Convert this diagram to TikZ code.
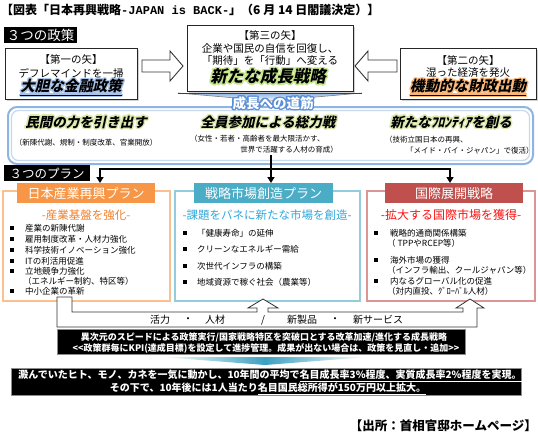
\documentclass[tikz,border=0pt]{standalone}
\usepackage{fontspec}
\usepackage[copies]{contour}
\setmainfont{Noto Sans CJK JP}
\newfontfamily\jpi{Noto Sans CJK JP}[FakeSlant=0.22]
\newfontfamily\mono{Liberation Mono}
\usetikzlibrary{arrows.meta,shadows}
\definecolor{orgA}{HTML}{F79646}
\definecolor{orgL}{HTML}{FAC090}
\definecolor{orgT}{HTML}{F07F2A}
\definecolor{bluA}{HTML}{4BACC6}
\definecolor{bluL}{HTML}{93CDDD}
\definecolor{bluT}{HTML}{2EA8DC}
\definecolor{redA}{HTML}{C0504D}
\definecolor{redL}{HTML}{D99694}
\definecolor{redT}{HTML}{FF1010}
\definecolor{bigO}{HTML}{8EB4E3}
\definecolor{bigI}{HTML}{C6D9F1}
\definecolor{glowG}{HTML}{C8E68C}
\definecolor{glowB}{HTML}{A9C4EB}
\definecolor{glowO}{HTML}{F9B87A}
\definecolor{glowY}{HTML}{DCEAB0}
\definecolor{pathB}{HTML}{5B8FD5}
\definecolor{wedgeB}{HTML}{3CA0C0}
\newcommand\fsz[1]{\fontsize{#1}{#1}\selectfont}
\newcommand\bul[2]{\fill (#1-2.2,#2-2.2) rectangle (#1+2.2,#2+2.2);}
\tikzset{
  lbl/.style={fill=black,text=white,inner sep=0pt,anchor=north west},
  abox/.style={draw=black!85,line width=0.9pt,fill=white,anchor=north west,inner sep=0pt,
    drop shadow={shadow xshift=1.2pt,shadow yshift=-1.2pt,fill=black!35}},
  hollow/.style={draw=black!80,line width=0.9pt,fill=white},
  hdr/.style={text=white,inner sep=0pt,anchor=north west,minimum height=20},
  tree/.style={line width=1.8pt},
  treearrow/.style={line width=1.8pt,-{Triangle[width=7pt,length=6pt]}},
  item/.style={anchor=west,inner sep=0pt},
  barbox/.style={fill=black,draw=black!45,line width=0.8pt,anchor=north west,inner sep=0pt},
}
\begin{document}
\begin{tikzpicture}[x=1pt,y=-1pt,every node/.style={inner sep=0pt}]
\useasboundingbox (0,0) rectangle (538,439);
\fill[white] (0,0) rectangle (538,439);

% title
\node[anchor=west] (title) at (1,10) {\fsz{12}\bfseries 【図表「日本再興戦略{\mono -JAPAN is BACK-}」（6 月 14 日閣議決定）】};

% three policies label
\node[lbl,minimum width=73,minimum height=16] (policyLbl) at (4,27) {};
\node (policyTxt) at (policyLbl.center) {\fsz{13.5}\color{white}３つの政策};

% first arrow box
\node[abox,minimum width=132,minimum height=51] (arrow1) at (5,48) {};
\node (a1t1) at (71,60) {\fsz{10.5}【第一の矢】};
\node (a1t2) at (71,73) {\fsz{10.5}デフレマインドを一掃};
\node (a1t3) at (71,88) {\contourlength{1.3pt}\fsz{14.5}\jpi\bfseries\contour{glowB}{\underline{大胆な金融政策}}};

% third arrow box
\node[abox,minimum width=166,minimum height=66] (arrow3) at (187,25) {};
\node (a3t1) at (270,36) {\fsz{10.5}【第三の矢】};
\node (a3t2) at (270,49) {\fsz{10.5}企業や国民の自信を回復し、};
\node (a3t3) at (270,61) {\fsz{10.5}「期待」を「行動」へ変える};
\node (a3t4) at (268,77) {\contourlength{1.5pt}\fsz{16.5}\jpi\bfseries\contour{glowG}{新たな成長戦略}};

% second arrow box
\node[abox,minimum width=136,minimum height=51] (arrow2) at (400,48) {};
\node (a2t1) at (468,61) {\fsz{10.5}【第二の矢】};
\node (a2t2) at (468,73) {\fsz{10.5}湿った経済を発火};
\node (a2t3) at (468,88) {\contourlength{1.3pt}\fsz{14.5}\jpi\bfseries\contour{glowO}{\underline{機動的な財政出動}}};

% hollow arrows
\draw[hollow] (142,60) -- (170,60) -- (170,51) -- (183,66) -- (170,81) -- (170,72) -- (142,72) -- cycle;
\draw[hollow] (397,60) -- (368,60) -- (368,51) -- (355,66) -- (368,81) -- (368,72) -- (397,72) -- cycle;

% big growth-path box
\draw[draw=bigO,line width=2pt,rounded corners=9] (8,107) rectangle (533,164);
\draw[draw=bigI,line width=1.2pt,rounded corners=7] (11.5,110.5) rectangle (529.5,160.5);

% wedge under third arrow
\shade[top color=bigO,bottom color=white] (178,93) -- (362,93) -- (270,101) -- cycle;
\draw[black!50,line width=0.6pt] (178,93) -- (270,101) -- (362,93);
\draw[black!75,line width=1pt] (178,93) -- (362,93);
\node (pathLbl) at (273,104) {\contourlength{1.4pt}\fsz{13.5}\bfseries\color{white}\contour{pathB}{成長への道筋}};

% three headlines in big box
\node (h1) at (86,123) {\contourlength{1.4pt}\fsz{13.5}\jpi\bfseries\contour{glowY}{民間の力を引き出す}};
\node (h1s) at (86,143) {\fsz{7.5}（新陳代謝、規制・制度改革、官業開放）};
\node (h2) at (268,123) {\contourlength{1.4pt}\fsz{13.5}\jpi\bfseries\contour{glowY}{全員参加による総力戦}};
\node[anchor=west] (h2s) at (190,139) {\fsz{7.5}（女性・若者・高齢者を最大限活かす、};
\node[anchor=east] (h2t) at (338,150) {\fsz{7.5}世界で活躍する人材の育成）};
\node (h3) at (451,123) {\contourlength{1.4pt}\fsz{13.5}\jpi\bfseries\contour{glowY}{新たなﾌﾛﾝﾃｨｱを創る}};
\node[anchor=west] (h3s) at (385,140) {\fsz{7.5}（技術立国日本の再興、};
\node[anchor=west] (h3t) at (406,151) {\fsz{7.5}「メイド・バイ・ジャパン」で復活）};

% three plans label
\node[lbl,minimum width=86,minimum height=16] (planLbl) at (4,165) {};
\node (planTxt) at (planLbl.center) {\fsz{12.5}\color{white}３つのプラン};

% column outlines
\draw[orgL,line width=1.2pt] (3,191) rectangle (170,301);
\draw[bluL,line width=1.2pt] (175,191) rectangle (360,301);
\draw[redL,line width=1.2pt] (367,191) rectangle (535,301);

% headers
\node[hdr,fill=orgA,minimum width=138] (hdrA) at (17,183) {\fsz{13}日本産業再興プラン};
\node[hdr,fill=bluA,minimum width=139] (hdrB) at (194,183) {\fsz{13}戦略市場創造プラン};
\node[hdr,fill=redA,minimum width=138] (hdrC) at (385,183) {\fsz{13}国際展開戦略};

% tree connector
\coordinate (tTop) at (271,155);
\coordinate (jA) at (100,169);
\coordinate (jB) at (271,169);
\coordinate (jC) at (450,169);
\draw[tree] (tTop) -- (jB);
\draw[tree] ([xshift=-0.9pt]jA) -- ([xshift=0.9pt]jC);
\draw[treearrow] (jA) -- (jA |- hdrA.north);
\draw[treearrow] (jB) -- (jB |- hdrB.north);
\draw[treearrow] (jC) -- (jC |- hdrC.north);

% subtitles
\node (subA) at (86,215) {\fsz{11.5}\color{orgT}-産業基盤を強化-};
\node (subB) at (267,215) {\fsz{11.5}\color{bluT}-課題をバネに新たな市場を創造-};
\node (subC) at (451,215) {\fsz{12}\color{redT}-拡大する国際市場を獲得-};

% orange items
\bul{12}{228}\bul{12}{239}\bul{12}{250}\bul{12}{261}\bul{12}{271}\bul{12}{291}
\node[item] (oa1) at (25,228) {\fsz{8.5}産業の新陳代謝};
\node[item] (oa2) at (25,239) {\fsz{8.5}雇用制度改革・人材力強化};
\node[item] (oa3) at (25,250) {\fsz{8.5}科学技術イノベーション強化};
\node[item] (oa4) at (25,261) {\fsz{8.5}ITの利活用促進};
\node[item] (oa5) at (25,271) {\fsz{8.5}立地競争力強化};
\node[item] (oa6) at (23,281) {\fsz{8.5}（エネルギー制約、特区等）};
\node[item] (oa7) at (25,291) {\fsz{8.5}中小企業の革新};

% blue items
\bul{185}{233}\bul{185}{249}\bul{185}{266}\bul{185}{282}
\node[item] (ob1) at (197,233) {\fsz{8.5}「健康寿命」の延伸};
\node[item] (ob2) at (197,249) {\fsz{8.5}クリーンなエネルギー需給};
\node[item] (ob3) at (197,266) {\fsz{8.5}次世代インフラの構築};
\node[item] (ob4) at (197,282) {\fsz{8.5}地域資源で稼ぐ社会（農業等）};

% red items
\bul{376}{233}\bul{376}{260}\bul{376}{281}
\node[item] (oc1) at (390,233) {\fsz{8.5}戦略的通商関係構築};
\node[item] (oc2) at (387,243) {\fsz{8.5}（ TPPやRCEP等）};
\node[item] (oc3) at (390,260) {\fsz{8.5}海外市場の獲得};
\node[item] (oc4) at (387,270) {\fsz{8.5}（インフラ輸出、クールジャパン等）};
\node[item] (oc5) at (390,281) {\fsz{8.5}内なるグローバル化の促進};
\node[item] (oc6) at (387,291) {\fsz{8.5}（対内直投、ｸﾞﾛｰﾊﾞﾙ人材）};

% feedback band with arrows
\draw[fill=white,draw=black!80,line width=0.8pt] (57,297) -- (72,297) -- (72,312) -- (257,312) -- (257,308) -- (248,308) -- (263,299) -- (278,308) -- (268,308) -- (268,312) -- (463,312) -- (463,308) -- (456,308) -- (470,299) -- (484,308) -- (477,308) -- (477,327) -- (57,327) -- cycle;
\node (v1) at (160,320) {\fsz{10}活力};
\node (v2) at (188,320) {\fsz{10}・};
\node (v3) at (215,320) {\fsz{10}人材};
\node (v4) at (263,320) {\fsz{10}/};
\node (v5) at (302,320) {\fsz{10}新製品};
\node (v6) at (335,320) {\fsz{10}・};
\node (v7) at (378,320) {\fsz{10}新サービス};

% KPI bar
\node[barbox,minimum width=408,minimum height=25] (kpi) at (57,329) {};
\node (k1) at (264,337) {\fsz{9}\bfseries\color{white}異次元のスピードによる政策実行/国家戦略特区を突破口とする改革加速/進化する成長戦略};
\node (k2) at (266,348) {\fsz{9}\bfseries\color{white}<\kern0pt<政策群毎にKPI(達成目標)を設定して進捗管理。成果が出ない場合は、政策を見直し・追加>\kern0pt>};

% blue wedge
\shade[left color=white,right color=white,middle color=wedgeB] (162,357) -- (368,357) -- (265,365) -- cycle;

% result bar
\node[barbox,minimum width=510,minimum height=27] (result) at (11,368) {};
\node (r1) at (270,376) {\fsz{10}\bfseries\color{white}澱んでいたヒト、モノ、カネを一気に動かし、10年間の平均で\underline{名目成長率3\%程度、実質成長率2\%程度を実現。}};
\node (r2) at (268,389) {\fsz{10}\bfseries\color{white}その下で、10年後には1人当たり\underline{名目国民総所得が150万円以上拡大。}};

% source
\node[anchor=east] (source) at (537,426) {\fsz{12.5}\bfseries 【出所：首相官邸ホームページ】};
\end{tikzpicture}
\end{document}
